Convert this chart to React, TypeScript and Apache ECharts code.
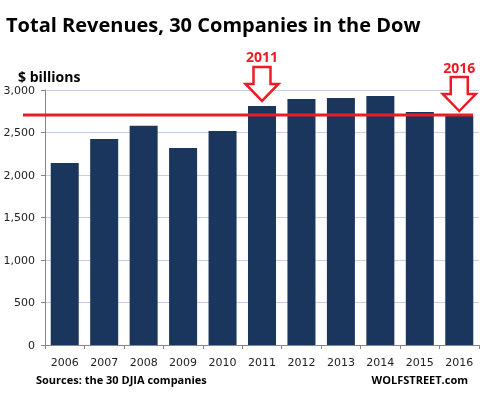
import React, { useEffect, useRef } from "react";
import * as echarts from "echarts";

const years = ["2006", "2007", "2008", "2009", "2010", "2011", "2012", "2013", "2014", "2015", "2016"];
const revenues = [2140, 2425, 2580, 2318, 2518, 2812, 2894, 2906, 2929, 2741, 2694];
const referenceLevel = 2706;
const highlighted = ["2011", "2016"];
const yTicks = { min: 0, max: 3000, interval: 500 };

const RED = "#ED1C24";
const NAVY = "#1B365D";

export default function App() {
  const ref = useRef<HTMLDivElement>(null);
  useEffect(() => {
    if (!ref.current) return;
    const chart = echarts.init(ref.current, null, { renderer: "svg" });
    chart.setOption({
      animation: false,
      grid: { left: 45, right: 4, top: 90, bottom: 52 },
      title: [
        {
          text: "Total Revenues, 30 Companies in the Dow",
          left: 1,
          top: 9,
          textStyle: { fontFamily: "Open Sans", fontWeight: "bold", fontSize: 20, color: "#000" },
        },
        {
          text: "$ billions",
          left: 13,
          top: 64,
          textStyle: { fontFamily: "Open Sans", fontWeight: "bold", fontSize: 14, color: "#000" },
        },
        {
          text: "Sources: the 30 DJIA companies",
          left: 31,
          top: 369,
          textStyle: { fontFamily: "Open Sans", fontWeight: "bold", fontSize: 11, color: "#000" },
        },
        {
          text: "WOLFSTREET.com",
          right: 10,
          top: 369,
          textStyle: { fontFamily: "Open Sans", fontWeight: "bold", fontSize: 11, color: "#000" },
        },
      ],
      xAxis: {
        type: "category",
        data: years,
        axisLine: { lineStyle: { color: "#868686" } },
        axisTick: { show: true, length: 4, lineStyle: { color: "#868686" } },
        axisLabel: { color: "#222", fontFamily: "DejaVu Sans", fontSize: 11, margin: 12 },
      },
      yAxis: {
        type: "value",
        min: yTicks.min,
        max: yTicks.max,
        interval: yTicks.interval,
        axisLine: { show: true, lineStyle: { color: "#868686" } },
        axisTick: { show: true, length: 4, lineStyle: { color: "#868686" } },
        axisLabel: {
          color: "#222",
          fontFamily: "DejaVu Sans",
          fontSize: 11,
          margin: 10,
          formatter: (v: number) => v.toLocaleString("en-US"),
        },
        splitLine: { lineStyle: { color: "#C3D1E3", width: 1 } },
      },
      series: [
        {
          type: "bar",
          data: revenues,
          barWidth: "71%",
          itemStyle: { color: NAVY },
        },
      ],
    });

    const yLine = chart.convertToPixel({ yAxisIndex: 0 }, referenceLevel) as number;
    const graphics: any[] = [
      {
        type: "line",
        shape: { x1: 23, y1: yLine, x2: 473, y2: yLine },
        style: { stroke: RED, lineWidth: 3 },
        z: 10,
      },
    ];
    highlighted.forEach((yr) => {
      const idx = years.indexOf(yr);
      const [tx, top] = chart.convertToPixel({ seriesIndex: 0 }, [idx, revenues[idx]]) as number[];
      const ty = top - 5;
      graphics.push({
        type: "polygon",
        shape: {
          points: [
            [tx - 8.5, ty - 34],
            [tx + 8.5, ty - 34],
            [tx + 8.5, ty - 17],
            [tx + 16.5, ty - 17],
            [tx, ty],
            [tx - 16.5, ty - 17],
            [tx - 8.5, ty - 17],
          ],
        },
        style: { fill: "#fff", stroke: RED, lineWidth: 2.5 },
        z: 11,
      });
      graphics.push({
        type: "text",
        x: tx,
        y: ty - 44,
        style: {
          text: yr,
          fill: RED,
          font: "bold 14px 'Open Sans'",
          textAlign: "center",
          textVerticalAlign: "middle",
        },
        z: 11,
      });
    });
    chart.setOption({ graphic: graphics });
    return () => chart.dispose();
  }, []);
  return <div ref={ref} style={{ width: 483, height: 397, position: "fixed", left: 0, top: 0 }} />;
}
